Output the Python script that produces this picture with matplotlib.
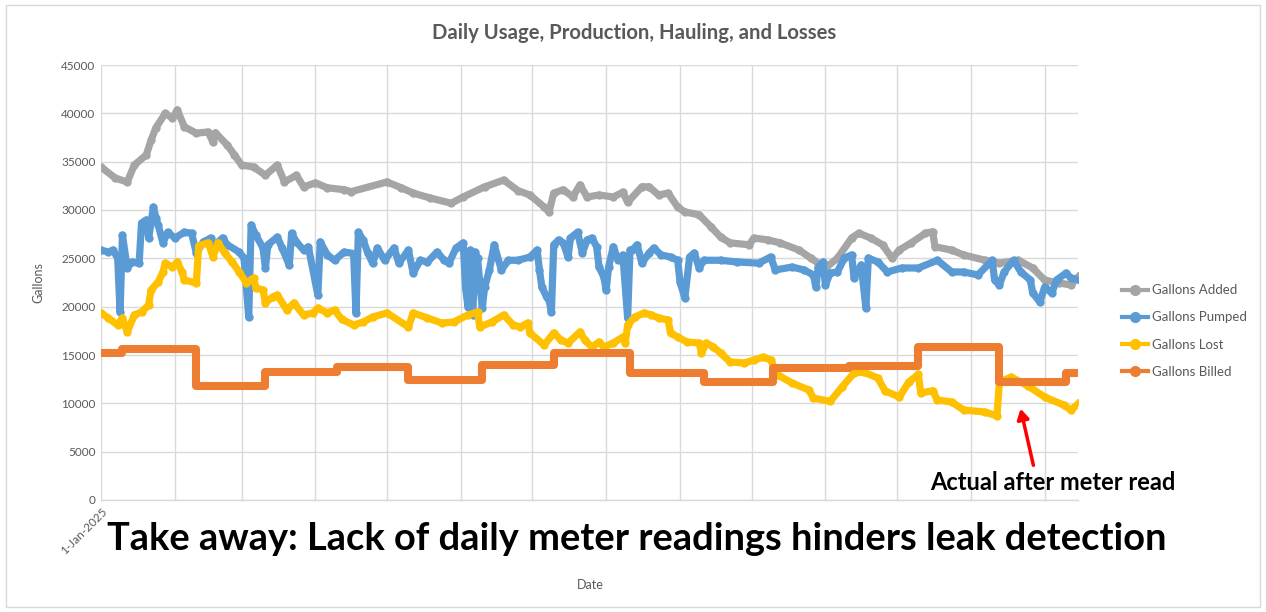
import numpy as np
import pandas as pd
import matplotlib
matplotlib.use("Agg")
import matplotlib.pyplot as plt
import matplotlib.dates as mdates
from matplotlib.lines import Line2D
from matplotlib.patches import Rectangle, FancyArrowPatch

# ---------------- data (days since 1-Jan-2025, gallons) ----------------
start_date = "2025-01-01"

added_days = [0, 6, 11, 14, 19, 21, 23, 27, 30, 32, 35, 40, 45, 47, 48, 53, 56, 59, 64, 69,
              74, 77, 82, 85, 90, 95, 102, 105, 120, 126, 131, 138, 147, 152, 161, 169, 175, 180,
              186, 188, 190, 194, 198, 201, 204, 209, 215, 219, 221, 227, 230, 234, 238, 242, 245,
              251, 256, 260, 264, 272, 274, 280, 285, 293, 298, 304, 309, 315, 318, 323, 328, 332,
              335, 340, 346, 349, 350, 357, 362, 371, 377, 385, 391, 396, 402, 407, 411]
added_vals = [34450, 33300, 32900, 34650, 35700, 37200, 38500, 40000, 39500, 40350, 38600, 37950,
              38070, 37000, 38000, 36700, 35700, 34650, 34450, 33600, 34650, 32900, 33600, 32400,
              32800, 32300, 32100, 31900, 32900, 32300, 31750, 31250, 30700, 31350, 32400, 33100,
              32000, 31550, 30300, 29800, 31750, 32100, 31350, 32600, 31350, 31550, 31350, 31850,
              30800, 32400, 32400, 31550, 31750, 30300, 29800, 29500, 28250, 27200, 26600, 26400,
              27100, 26900, 26600, 25850, 25000, 24000, 25000, 27100, 27600, 27100, 26400, 25000,
              25850, 26600, 27600, 27750, 26200, 25850, 25350, 24800, 24500, 24800, 24000, 22750,
              22450, 22250, 23300]

pumped_days = [0, 3, 5, 7, 8, 9, 11, 13, 16, 17, 19, 20, 22, 23, 24, 26, 28, 31, 35, 38, 40, 43,
               46, 47, 51, 53, 58, 60, 62, 63, 65, 68, 69, 70, 74, 76, 79, 80, 82, 85, 87, 91, 92,
               95, 98, 102, 106, 107, 108, 110, 112, 114, 116, 119, 123, 125, 129, 131, 134, 137,
               141, 144, 146, 149, 152, 153, 154, 155, 156, 157, 158, 160, 161, 163, 165, 168, 171,
               175, 180, 183, 184, 185, 187, 188, 189, 190, 192, 194, 196, 197, 200, 202, 204, 206,
               208, 209, 211, 212, 213, 215, 217, 219, 221, 222, 223, 225, 227, 230, 232, 235, 239,
               242, 243, 245, 247, 249, 251, 253, 260, 267, 276, 281, 283, 290, 295, 299, 300, 301,
               303, 304, 306, 309, 312, 315, 316, 319, 321, 322, 326, 330, 336, 343, 351, 357, 362,
               368, 374, 375, 377, 379, 383, 386, 390, 391, 394, 396, 399, 401, 405, 407, 411]
pumped_vals = [25860, 25650, 25860, 25030, 19450, 27400, 24000, 24620, 24500, 28650, 28970, 27100,
               30300, 29200, 28450, 26600, 27700, 27100, 27700, 27600, 25550, 26700, 27100, 26200,
               27100, 26400, 25650, 25030, 18900, 28450, 27400, 26070, 24000, 26400, 27200, 26070,
               24300, 27600, 26700, 25860, 26200, 21200, 26700, 25350, 24800, 25650, 25500, 19350,
               27700, 26900, 25550, 24500, 26070, 24800, 26070, 24500, 25860, 23480, 24800, 24620,
               25650, 24800, 24500, 26070, 26600, 21930, 19970, 25860, 19140, 25650, 25000, 19860,
               22030, 23800, 26400, 23800, 24800, 24800, 25140, 25860, 23800, 22030, 21000, 20690,
               19450, 26400, 26900, 26600, 25140, 27100, 27700, 25550, 26900, 27100, 26200, 24100,
               23070, 21720, 24100, 26200, 24800, 25350, 18830, 25860, 25860, 26400, 24500, 25550,
               26070, 25350, 25140, 24800, 22550, 20900, 25140, 25550, 24000, 24800, 24800, 24620,
               24500, 25140, 23800, 24100, 23800, 23280, 22030, 24100, 24620, 22240, 23480, 23590,
               25030, 25350, 22970, 24310, 19860, 25030, 24620, 23590, 24000, 24000, 24800, 23590,
               23590, 23280, 24800, 22760, 22240, 23590, 24800, 23590, 22760, 21410, 20480, 22030,
               21410, 22760, 23480, 22970, 22760]

lost_days = [0, 3, 7, 9, 11, 14, 17, 20, 21, 24, 26, 27, 30, 32, 34, 35, 40, 41, 45, 47, 49, 52,
             55, 58, 61, 64, 65, 68, 69, 72, 74, 78, 81, 85, 89, 91, 95, 98, 101, 106, 110, 114,
             120, 129, 131, 137, 143, 148, 154, 158, 159, 164, 169, 173, 176, 179, 180, 186, 190,
             193, 196, 201, 203, 206, 209, 211, 215, 219, 220, 221, 224, 228, 231, 234, 238, 239,
             242, 246, 251, 252, 254, 257, 260, 264, 270, 274, 278, 281, 284, 290, 297, 299, 306,
             311, 316, 320, 326, 329, 335, 339, 343, 344, 349, 351, 357, 362, 371, 376, 377, 382,
             389, 396, 404, 407, 411]
lost_vals = [19350, 18830, 18100, 18830, 17380, 19140, 19450, 20170, 21720, 22550, 23590, 24500,
             24100, 24620, 23590, 22760, 22450, 26300, 26600, 25140, 26600, 25550, 24620, 23590,
             22450, 22970, 21930, 21720, 20380, 21000, 21200, 19650, 20380, 19140, 19350, 19860,
             19350, 19650, 18700, 18100, 18410, 18930, 19350, 17900, 19350, 18830, 18310, 18410,
             19140, 19450, 17900, 18410, 19140, 18100, 17900, 18310, 17280, 16030, 17280, 16550,
             16240, 17380, 16550, 15830, 16340, 15830, 16240, 16860, 16240, 18100, 18930, 19350,
             19140, 18830, 18620, 17280, 16860, 16340, 16240, 15210, 16240, 15830, 15210, 14280,
             14170, 14480, 14790, 14480, 12930, 12100, 11380, 10550, 10200, 11690, 13140, 13240,
             12620, 11300, 10650, 12200, 13000, 11070, 11300, 10350, 10140, 9310, 9100, 8700, 12200,
             12720, 11800, 10650, 9830, 9310, 10140]

billed_start_days = [0, 9, 40, 69, 99, 129, 160, 190, 222, 253, 282, 314, 343, 377, 405]
billed_vals = [15200, 15600, 11800, 13200, 13790, 12410, 13970, 15170, 13100, 12240, 13620,
               13900, 15830, 12200, 13100]
billed_end_day = 411

series_names = ["Gallons Added", "Gallons Pumped", "Gallons Lost", "Gallons Billed"]
series_colors = ["#A5A5A5", "#5B9BD5", "#FFC000", "#ED7D31"]

y_ticks = [0, 5000, 10000, 15000, 20000, 25000, 30000, 35000, 40000, 45000]
first_tick_label = "1-Jan-2025"

# ---------------- figure ----------------
FONT = ["Lato", "DejaVu Sans"]
plt.rcParams["font.family"] = FONT
TXT = "#595959"

W, H = 1266, 612
fig = plt.figure(figsize=(W / 100, H / 100), dpi=100)
fig.patch.set_facecolor("white")

# outer chart frame
fig.add_artist(Rectangle((6 / W, 1 - 607 / H), (1260 - 6) / W, (607 - 5) / H,
                         transform=fig.transFigure, fill=False, edgecolor="#D9D9D9", lw=1.0))

ax = fig.add_axes([101 / W, 1 - 500 / H, (1078 - 101) / W, (500 - 65) / H])

base = np.datetime64(start_date)


def to_dates(days):
    return base + np.array(days, dtype="timedelta64[D]")


lw = 5.2
ms = 6.0
common = dict(solid_joinstyle="round", solid_capstyle="round", marker="o",
              markersize=ms, markeredgewidth=0)
ax.plot(to_dates(added_days), added_vals, color=series_colors[0], lw=lw, zorder=3, **common)
ax.plot(to_dates(pumped_days), pumped_vals, color=series_colors[1], lw=lw, zorder=4, **common)
ax.plot(to_dates(lost_days), lost_vals, color=series_colors[2], lw=lw, zorder=5, **common)

b_days = billed_start_days + [billed_end_day]
b_vals = billed_vals + [billed_vals[-1]]
ax.plot(to_dates(b_days), b_vals, color=series_colors[3], lw=lw + 0.6, drawstyle="steps-post",
        zorder=6, solid_joinstyle="round", solid_capstyle="round")

# axes styling
ax.set_ylim(0, 45000)
ax.set_yticks(y_ticks)
ax.set_yticklabels([str(v) for v in y_ticks], fontsize=8.5, color=TXT)
x0 = np.datetime64("2025-01-01")
x1 = np.datetime64("2026-02-15")
ax.set_xlim(x0, x1)
month_ticks = np.arange(np.datetime64("2025-01"), np.datetime64("2026-03"),
                        dtype="datetime64[M]").astype("datetime64[D]")
ax.set_xticks(month_ticks)
ax.set_xticklabels([first_tick_label] + [""] * (len(month_ticks) - 1),
                   rotation=45, ha="right", va="top", fontsize=8.5, color=TXT,
                   rotation_mode="anchor")
ax.tick_params(axis="both", length=0, pad=4)
ax.grid(True, color="#D9D9D9", lw=1.0, zorder=0)
ax.set_axisbelow(True)
for s in ["top", "right", "left"]:
    ax.spines[s].set_visible(False)
ax.spines["bottom"].set_color("#D9D9D9")
ax.spines["bottom"].set_linewidth(1.0)

# titles & labels
fig.text(634 / W, 1 - 33 / H, "Daily Usage, Production, Hauling, and Losses",
         ha="center", va="center", fontsize=14.6, fontweight="bold", color=TXT)
fig.text(38 / W, 1 - 283 / H, "Gallons", rotation=90, ha="center", va="center",
         fontsize=9, color=TXT)
fig.text(590 / W, 1 - 585 / H, "Date", ha="center", va="center", fontsize=9, color=TXT)

# legend
handles = [Line2D([0], [0], color=c, lw=3, marker="o", markersize=7) for c in series_colors]
fig.legend(handles, series_names, loc="center left",
           bbox_to_anchor=(1110 / W, 1 - 331 / H), frameon=False, fontsize=9.5,
           labelcolor=TXT, handlelength=2.0, handletextpad=0.3, labelspacing=1.15)

# take-away text
fig.text(637 / W, 1 - 539 / H,
         "Take away: Lack of daily meter readings hinders leak detection",
         ha="center", va="center", fontsize=27.4, fontweight="bold", color="black",
         bbox=dict(facecolor="white", edgecolor="none", pad=2))

# annotation
fig.text(1053 / W, 1 - 482 / H, "Actual after meter read", ha="center", va="center",
         fontsize=17, fontweight="bold", color="black")
fig.add_artist(FancyArrowPatch(
    (1034 / W, 1 - 468 / H), (1020 / W, 1 - 406 / H), transform=fig.transFigure,
    arrowstyle="-|>,head_length=6,head_width=3.5", color="#FF0000", lw=2.5))

fig.savefig("out.png", dpi=100, facecolor="white")
